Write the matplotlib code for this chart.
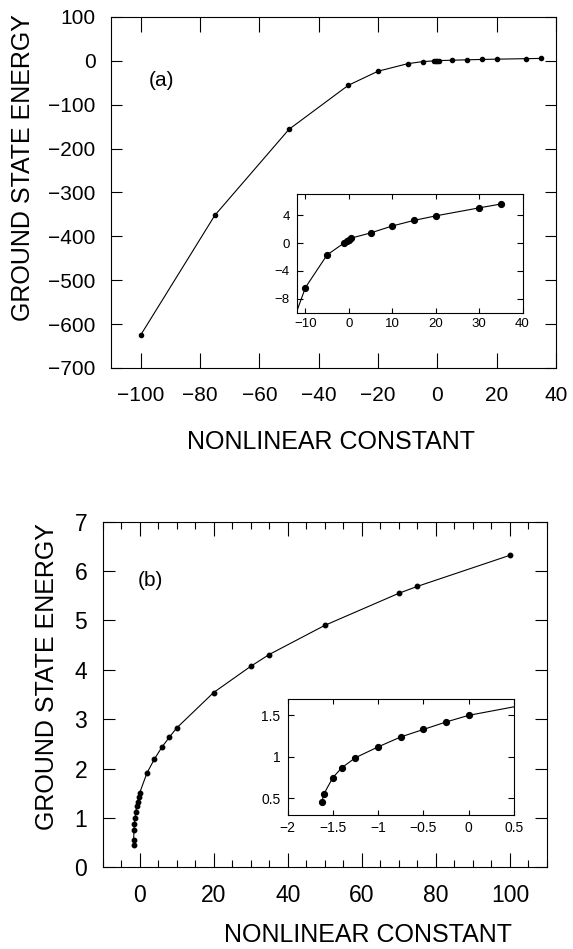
import matplotlib
matplotlib.use("Agg")
import matplotlib.pyplot as plt
from matplotlib.ticker import MultipleLocator

plt.rcParams['font.family'] = ['Liberation Sans', 'DejaVu Sans']

# panel (a): energy vs nonlinear constant, wide range
a_x = [-100, -75, -50, -30, -20, -10, -5, -1, -0.5, 0, 0.5, 5, 10, 15, 20, 30, 35]
a_y = [-625, -352, -156, -55.6, -23.6, -6.4, -1.7, 0.05, 0.3, 0.5, 0.7, 1.45, 2.45, 3.25, 3.9, 5.05, 5.6]
a_xticks = [-100, -80, -60, -40, -20, 0, 20, 40]
a_yticks = [100, 0, -100, -200, -300, -400, -500, -600, -700]
a_in_xticks = [-10, 0, 10, 20, 30, 40]
a_in_yticks = [4, 0, -4, -8]

# panel (b): energy vs nonlinear constant, positive range
b_x = [-1.62, -1.6, -1.5, -1.4, -1.25, -1.0, -0.75, -0.5, -0.25, 0, 2, 4, 6, 8, 10, 20, 30, 35, 50, 70, 75, 100]
b_y = [0.46, 0.55, 0.75, 0.87, 0.99, 1.12, 1.24, 1.33, 1.42, 1.5, 1.91, 2.19, 2.43, 2.63, 2.82, 3.54, 4.07, 4.31, 4.9, 5.55, 5.69, 6.32]
b_xticks = [0, 20, 40, 60, 80, 100]
b_yticks = [0, 1, 2, 3, 4, 5, 6, 7]
b_in_xticks = [-2, -1.5, -1, -0.5, 0, 0.5]
b_in_xlabels = ["-2", "-1.5", "-1", "-0.5", "0", "0.5"]
b_in_yticks = [0.5, 1, 1.5]
b_in_ylabels = ["0.5", "1", "1.5"]

W, H = 573, 949


def box(left, top, right, bottom):
    # pixel box -> figure fraction rect
    return [left / W, 1 - bottom / H, (right - left) / W, (bottom - top) / H]


def frame(ax, xlen, ylen, xpad, ypad, size):
    for s in ax.spines.values():
        s.set_linewidth(0.8)
    ax.tick_params(direction="in", top=True, right=True, width=0.8, labelsize=size)
    ax.tick_params(axis="x", length=xlen, pad=xpad)
    ax.tick_params(axis="y", length=ylen, pad=ypad)


def fmt(v):
    return f"{v:g}".replace("-", "\u2212")


fig = plt.figure(figsize=(W / 100, H / 100), dpi=100)

# ---- (a)
ax = fig.add_axes(box(111, 17, 556, 368))
ax.plot(a_x, a_y, "k-", lw=0.8, marker="o", ms=3.0)
ax.set_xlim(-110, 40)
ax.set_ylim(-700, 100)
ax.set_xticks(a_xticks)
ax.set_xticklabels([fmt(v) for v in a_xticks])
ax.set_yticks(a_yticks)
ax.set_yticklabels([fmt(v) for v in a_yticks])
frame(ax, 11, 8, 13, 11, 15)
fig.text(161 / W, 1 - 81 / H, "(a)", fontsize=15, ha="center", va="center")

ins = fig.add_axes(box(296.7, 194.3, 522.5, 312.7))
ins.plot(a_x, a_y, "k-", lw=0.8, marker="o", ms=4.2)
ins.set_xlim(-12, 40)
ins.set_ylim(-10, 7)
ins.set_xticks(a_in_xticks)
ins.set_xticklabels([fmt(v) for v in a_in_xticks])
ins.set_yticks(a_in_yticks)
ins.set_yticklabels([fmt(v) for v in a_in_yticks])
frame(ins, 3.5, 4.5, 4, 5, 9.5)

fig.text(22.8 / W, 1 - 167.5 / H, "GROUND STATE ENERGY", rotation=90,
         fontsize=18, ha="center", va="center")
fig.text(331 / W, 1 - 442 / H, "NONLINEAR CONSTANT", fontsize=18, ha="center", va="center")

# ---- (b)
bx = fig.add_axes(box(102.5, 521.7, 547, 867.3))
bx.plot(b_x, b_y, "k-", lw=0.8, marker="o", ms=3.2)
bx.set_xlim(-10, 110)
bx.set_ylim(0, 7)
bx.set_xticks(b_xticks)
bx.xaxis.set_minor_locator(MultipleLocator(5))
bx.set_yticks(b_yticks)
frame(bx, 10, 8.4, 12, 11, 16.5)
bx.tick_params(axis="x", which="minor", direction="in", top=True, length=5, width=0.8)
fig.text(150.7 / W, 1 - 580 / H, "(b)", fontsize=15, ha="center", va="center")

bins = fig.add_axes(box(287.5, 698.7, 514.1, 815))
bins.plot(b_x, b_y, "k-", lw=0.8, marker="o", ms=4.2)
bins.set_xlim(-2, 0.5)
bins.set_ylim(0.3, 1.7)
bins.set_xticks(b_in_xticks)
bins.set_xticklabels([s.replace("-", "\u2212") for s in b_in_xlabels])
bins.set_yticks(b_in_yticks)
bins.set_yticklabels(b_in_ylabels)
frame(bins, 3.5, 4.5, 4, 5, 10)

fig.text(46.6 / W, 1 - 677 / H, "GROUND STATE ENERGY", rotation=90,
         fontsize=18, ha="center", va="center")
fig.text(368 / W, 1 - 935.5 / H, "NONLINEAR CONSTANT", fontsize=18, ha="center", va="center")

fig.savefig("out.png", dpi=100)
